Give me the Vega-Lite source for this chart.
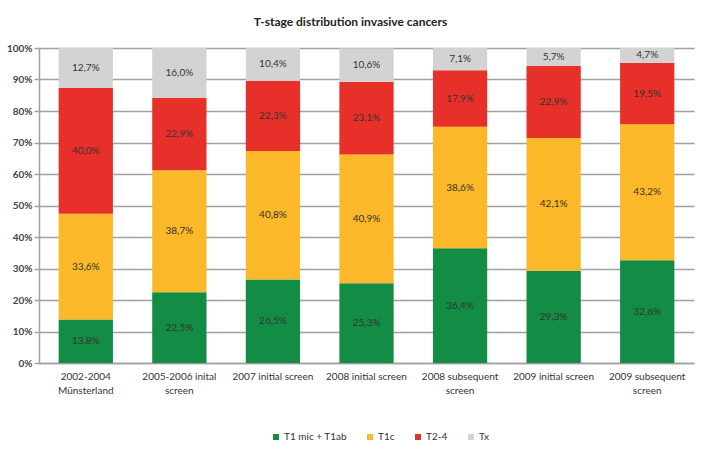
{
  "$schema": "https://vega.github.io/schema/vega-lite/v6.json",
  "width": 655,
  "height": 315,
  "autosize": {"type": "none"},
  "padding": {"left": 39, "top": 48, "right": 7, "bottom": 92},
  "background": "white",
  "title": {
    "text": "T-stage distribution invasive cancers",
    "font": "Lato",
    "fontSize": 12,
    "fontWeight": "bold",
    "color": "#222222",
    "anchor": "middle",
    "dx": -16,
    "dy": 5,
    "offset": 19
  },
  "config": {
    "locale": {"number": {"decimal": ",", "thousands": ".", "grouping": [3], "currency": ["", "€"]}},
    "view": {"stroke": null},
    "font": "Lato",
    "axisY": {
      "labelOverlap": false,
      "labelFontSize": 10,
      "labelFontWeight": "bold",
      "labelColor": "#444444",
      "labelPadding": 2,
      "tickSize": 5,
      "tickColor": "#a0a0a0",
      "tickWidth": 1.5,
      "gridColor": "#a0a0a0",
      "gridWidth": 1.5,
      "domainColor": "#a0a0a0",
      "domainWidth": 1.5
    }
  },
  "data": {
    "values": [
      {"screen": "2002-2004 Münsterland", "stage": "T1 mic + T1ab", "ord": 1, "value": 0.138},
      {"screen": "2002-2004 Münsterland", "stage": "T1c", "ord": 2, "value": 0.336},
      {"screen": "2002-2004 Münsterland", "stage": "T2-4", "ord": 3, "value": 0.400},
      {"screen": "2002-2004 Münsterland", "stage": "Tx", "ord": 4, "value": 0.127},
      {"screen": "2005-2006 inital screen", "stage": "T1 mic + T1ab", "ord": 1, "value": 0.225},
      {"screen": "2005-2006 inital screen", "stage": "T1c", "ord": 2, "value": 0.387},
      {"screen": "2005-2006 inital screen", "stage": "T2-4", "ord": 3, "value": 0.229},
      {"screen": "2005-2006 inital screen", "stage": "Tx", "ord": 4, "value": 0.160},
      {"screen": "2007 initial screen", "stage": "T1 mic + T1ab", "ord": 1, "value": 0.265},
      {"screen": "2007 initial screen", "stage": "T1c", "ord": 2, "value": 0.408},
      {"screen": "2007 initial screen", "stage": "T2-4", "ord": 3, "value": 0.223},
      {"screen": "2007 initial screen", "stage": "Tx", "ord": 4, "value": 0.104},
      {"screen": "2008 initial screen", "stage": "T1 mic + T1ab", "ord": 1, "value": 0.253},
      {"screen": "2008 initial screen", "stage": "T1c", "ord": 2, "value": 0.409},
      {"screen": "2008 initial screen", "stage": "T2-4", "ord": 3, "value": 0.231},
      {"screen": "2008 initial screen", "stage": "Tx", "ord": 4, "value": 0.106},
      {"screen": "2008 subsequent screen", "stage": "T1 mic + T1ab", "ord": 1, "value": 0.364},
      {"screen": "2008 subsequent screen", "stage": "T1c", "ord": 2, "value": 0.386},
      {"screen": "2008 subsequent screen", "stage": "T2-4", "ord": 3, "value": 0.179},
      {"screen": "2008 subsequent screen", "stage": "Tx", "ord": 4, "value": 0.071},
      {"screen": "2009 initial screen", "stage": "T1 mic + T1ab", "ord": 1, "value": 0.293},
      {"screen": "2009 initial screen", "stage": "T1c", "ord": 2, "value": 0.421},
      {"screen": "2009 initial screen", "stage": "T2-4", "ord": 3, "value": 0.229},
      {"screen": "2009 initial screen", "stage": "Tx", "ord": 4, "value": 0.057},
      {"screen": "2009 subsequent screen", "stage": "T1 mic + T1ab", "ord": 1, "value": 0.326},
      {"screen": "2009 subsequent screen", "stage": "T1c", "ord": 2, "value": 0.432},
      {"screen": "2009 subsequent screen", "stage": "T2-4", "ord": 3, "value": 0.195},
      {"screen": "2009 subsequent screen", "stage": "Tx", "ord": 4, "value": 0.047}
    ]
  },
  "transform": [
    {"stack": "value", "groupby": ["screen"], "sort": [{"field": "ord", "order": "ascending"}], "as": ["y0", "y1"]},
    {"calculate": "(datum.y0 + datum.y1) / 2", "as": "ymid"}
  ],
  "encoding": {
    "x": {
      "field": "screen",
      "type": "nominal",
      "sort": null,
      "title": null,
      "scale": {"paddingInner": 0.42, "paddingOuter": 0.21},
      "axis": {
        "labelAngle": 0,
        "labelFontSize": 10,
        "labelColor": "#333333",
        "labelPadding": 8,
        "labelLineHeight": 14,
        "ticks": false,
        "domainColor": "#a0a0a0",
        "domainWidth": 1.5,
        "labelExpr": "{'2002-2004 Münsterland':['2002-2004','Münsterland'],'2005-2006 inital screen':['2005-2006 inital','screen'],'2008 subsequent screen':['2008 subsequent','screen'],'2009 subsequent screen':['2009 subsequent','screen']}[datum.label] || datum.label"
      }
    }
  },
  "layer": [
    {
      "mark": {"type": "bar"},
      "encoding": {
        "y": {
          "field": "y0",
          "type": "quantitative",
          "scale": {"domain": [0, 1], "nice": false},
          "title": null,
          "axis": {"values": [0, 0.1, 0.2, 0.3, 0.4, 0.5, 0.6, 0.7, 0.8, 0.9, 1], "format": ".0%"}
        },
        "y2": {"field": "y1"},
        "color": {
          "field": "stage",
          "type": "nominal",
          "scale": {
            "domain": ["T1 mic + T1ab", "T1c", "T2-4", "Tx"],
            "range": ["#138c45", "#fbb829", "#e8302a", "#d3d3d3"]
          },
          "legend": {
            "title": null,
            "orient": "none",
            "direction": "horizontal",
            "legendX": 232,
            "legendY": 384,
            "symbolType": "square",
            "symbolSize": 36,
            "labelFontSize": 10,
            "labelColor": "#333333",
            "columnPadding": 18,
            "labelOffset": 3
          }
        }
      }
    },
    {
      "mark": {"type": "text", "fontSize": 10, "color": "#333333"},
      "encoding": {
        "y": {
          "field": "ymid",
          "type": "quantitative",
          "scale": {"domain": [0, 1], "nice": false},
          "title": null,
          "axis": {"values": [0, 0.1, 0.2, 0.3, 0.4, 0.5, 0.6, 0.7, 0.8, 0.9, 1], "format": ".0%"}
        },
        "text": {"field": "value", "type": "quantitative", "format": ".1%"}
      }
    }
  ]
}
